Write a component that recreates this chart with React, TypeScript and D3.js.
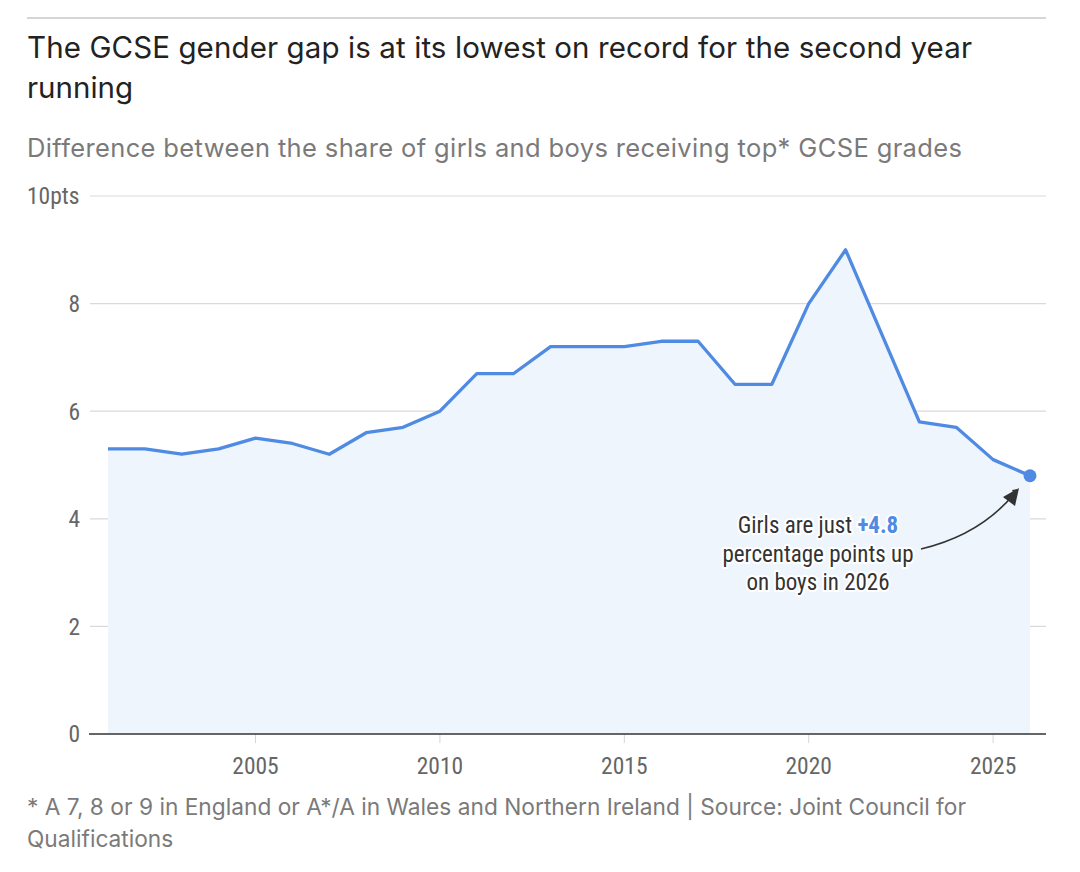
import React from "react";
import * as d3 from "d3";

const years = [2001,2002,2003,2004,2005,2006,2007,2008,2009,2010,2011,2012,2013,2014,2015,2016,2017,2018,2019,2020,2021,2022,2023,2024,2025,2026];
const gap = [5.3,5.3,5.2,5.3,5.5,5.4,5.2,5.6,5.7,6.0,6.7,6.7,7.2,7.2,7.2,7.3,7.3,6.5,6.5,8.0,9.0,7.4,5.8,5.7,5.1,4.8];
const yTicks = [0,2,4,6,8,10];
const xTicks = [2005,2010,2015,2020,2025];

const W = 1080, H = 872;
const condensed = "'Roboto Condensed','Liberation Sans Narrow','DejaVu Sans Condensed',Roboto,sans-serif";
const sans = "Inter,'Noto Sans',sans-serif";

export default function App() {
  const x = d3.scaleLinear().domain([2001, 2026]).range([108, 1030]);
  const y = d3.scaleLinear().domain([0, 10]).range([734, 196]);
  const data = years.map((yr, i) => ({ yr, v: gap[i] }));
  const line = d3.line<any>().x(d => x(d.yr)).y(d => y(d.v));
  const area = d3.area<any>().x(d => x(d.yr)).y0(y(0)).y1(d => y(d.v));
  const last = data[data.length - 1];
  const blue = "#4f8ae3";

  return (
    <svg width={W} height={H} style={{ position: "absolute", left: 0, top: 0, background: "#fff" }}>
      <defs>
        <marker id="arr" viewBox="0 0 10 10" refX="8" refY="5" markerWidth="9" markerHeight="9" orient="auto" markerUnits="userSpaceOnUse">
          <path d="M0,0 L10,5 L0,10 z" fill="#333" />
        </marker>
      </defs>
      <line x1={27} x2={1046} y1={18} y2={18} stroke="#c8c8c8" strokeWidth={1.5} />
      <text x={27} y={58} fontFamily={sans} fontSize={29.5} fill="#222" textLength={945} lengthAdjust="spacing">
        The GCSE gender gap is at its lowest on record for the second year
      </text>
      <text x={27} y={98} fontFamily={sans} fontSize={29.5} fill="#222">running</text>
      <text x={27} y={157} fontFamily={sans} fontSize={25.5} fill="#7a7a7a" textLength={935} lengthAdjust="spacing">
        Difference between the share of girls and boys receiving top* GCSE grades
      </text>

      {yTicks.filter(t => t > 0).map(t => (
        <line key={"g" + t} x1={90} x2={1046} y1={y(t)} y2={y(t)} stroke="#dadada" strokeWidth={1.2} />
      ))}
      {yTicks.map(t => (
        t === 10 ? (
          <text key={"l" + t} x={27} y={y(t)} dy="0.36em" fontFamily={condensed} fontSize={23.5} fill="#666">10pts</text>
        ) : (
          <text key={"l" + t} x={80} y={y(t)} dy="0.36em" textAnchor="end" fontFamily={condensed} fontSize={23.5} fill="#666">{t}</text>
        )
      ))}

      <path d={area(data) || ""} fill="#eff5fd" />
      {xTicks.map(t => (
        <g key={"x" + t}>
          <line x1={x(t)} x2={x(t)} y1={734} y2={743} stroke="#d5d5d5" strokeWidth={1} />
          <text x={x(t)} y={774} textAnchor="middle" fontFamily={condensed} fontSize={23.5} fill="#666">{t}</text>
        </g>
      ))}
      <line x1={89} x2={1046} y1={734} y2={734} stroke="#333" strokeWidth={1.5} />
      <path d={line(data) || ""} fill="none" stroke={blue} strokeWidth={3.3} strokeLinejoin="round" />
      <circle cx={x(last.yr)} cy={y(last.v)} r={6.5} fill={blue} />

      <path d="M921,549 Q980,535 1014,494" fill="none" stroke="#333" strokeWidth={1.6} />
      <path d="M1018,489 L1004,499 L1014,494 L1012,490 Z" fill="#333" />
      <path d="M1019,488 L1015,506 L1003,497 Z" fill="#333" />
      <g fontFamily={condensed} fontSize={23} fill="#333" textAnchor="middle" stroke="#fff" strokeWidth={4} paintOrder="stroke" strokeLinejoin="round">
        <text x={818} y={533}>
          Girls are just <tspan fill={blue} fontWeight="bold">+4.8</tspan>
        </text>
        <text x={818} y={562}>percentage points up</text>
        <text x={818} y={590}>on boys in 2026</text>
      </g>

      <text x={27} y={815} fontFamily={sans} fontSize={22.7} fill="#7a7a7a" textLength={939} lengthAdjust="spacing">
        * A 7, 8 or 9 in England or A*/A in Wales and Northern Ireland | Source: Joint Council for
      </text>
      <text x={27} y={847} fontFamily={sans} fontSize={22.7} fill="#7a7a7a">Qualifications</text>
    </svg>
  );
}
